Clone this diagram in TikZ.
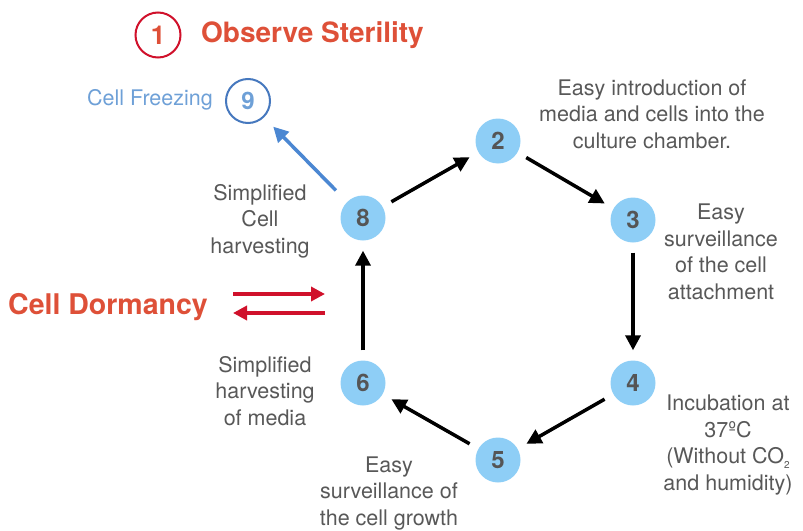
\documentclass[tikz,border=0pt]{standalone}
\usepackage{fontspec}
\setmainfont{TeX Gyre Heros}
\usetikzlibrary{arrows.meta}
\definecolor{cfill}{RGB}{142,206,246}
\definecolor{numgray}{RGB}{85,85,85}
\definecolor{labgray}{RGB}{88,88,88}
\definecolor{redline}{RGB}{208,17,43}
\definecolor{redtext}{RGB}{222,80,56}
\definecolor{blueline}{RGB}{70,120,190}
\definecolor{bluetext}{RGB}{110,160,215}
\definecolor{bluearrow}{RGB}{75,135,210}
\tikzset{
  stepcirc/.style={circle,fill=cfill,minimum size=45pt,inner sep=0pt,text=numgray,font=\fontsize{24}{24}\selectfont\bfseries},
  lab/.style={text=labgray,align=center,font=\fontsize{21.5}{26.5}\selectfont,inner sep=0pt},
  flow/.style={line width=3.5pt,-{Triangle[length=15pt,width=15pt]},shorten <=10pt,shorten >=10pt},
  redarr/.style={redline,line width=3.5pt,-{Triangle[length=14pt,width=14pt]}},
}
\begin{document}
\begin{tikzpicture}[x=1pt,y=-1pt]
\useasboundingbox (0,0) rectangle (803,530);
% step circles
\node[stepcirc] (c2) at (498,141) {2};
\node[stepcirc] (c3) at (633,220) {3};
\node[stepcirc] (c4) at (633,383) {4};
\node[stepcirc] (c5) at (498,460) {5};
\node[stepcirc] (c6) at (363,383) {6};
\node[stepcirc] (c8) at (363,218) {8};
% circle 9
\node[circle,draw=blueline,line width=2pt,minimum size=44pt,inner sep=0pt,text=bluetext,font=\fontsize{24}{24}\selectfont\bfseries] (c9) at (248,101) {9};
\node[anchor=east,text=bluetext,font=\fontsize{21.5}{21.5}\selectfont,inner sep=0pt] (freeze) at (213,100) {Cell Freezing};
% circle 1
\node[circle,draw=redline,line width=2pt,minimum size=45pt,inner sep=0pt,text=redtext,font=\fontsize{26}{26}\selectfont\bfseries] (c1) at (158,35) {1};
\node[anchor=west,text=redtext,font=\fontsize{28}{28}\selectfont\bfseries,inner sep=0pt] (steril) at (201,35) {Observe Sterility};
% cell dormancy
\node[anchor=west,text=redtext,font=\fontsize{28.5}{28.5}\selectfont\bfseries,inner sep=0pt] (dorm) at (8,307) {Cell Dormancy};
\coordinate (ra1) at (233,294);
\coordinate (ra2) at (325,294);
\coordinate (rb1) at (325,313);
\coordinate (rb2) at (233,313);
\draw[redarr] (ra1) -- (ra2);
\draw[redarr] (rb1) -- (rb2);
% labels
\node[lab] (l2) at (652,114) {Easy introduction of\\media and cells into the\\culture chamber.};
\node[lab] (l3) at (721,252) {Easy\\surveillance\\of the cell\\attachment};
\node[lab] (l4) at (728,445) {Incubation at\\37ºC\\(Without CO\raisebox{-5pt}{\fontsize{10}{10}\selectfont 2}\\and humidity)};
\node[lab] (l5) at (389,493) {Easy\\surveillance of\\the cell growth};
\node[lab] (l6) at (265,391) {Simplified\\harvesting\\of media};
\node[lab] (l8) at (260,221) {Simplified\\Cell\\harvesting};
% flow arrows
\draw[flow] (c8) -- (c2);
\draw[flow] (c2) -- (c3);
\draw[flow] (c3) -- (c4);
\draw[flow] (c4) -- (c5);
\draw[flow] (c5) -- (c6);
\draw[flow] (c6) -- (c8);
\draw[bluearrow,line width=3.5pt,-{Triangle[length=15pt,width=15pt]},shorten <=16pt,shorten >=13pt] (c8) -- (c9);
\end{tikzpicture}
\end{document}
